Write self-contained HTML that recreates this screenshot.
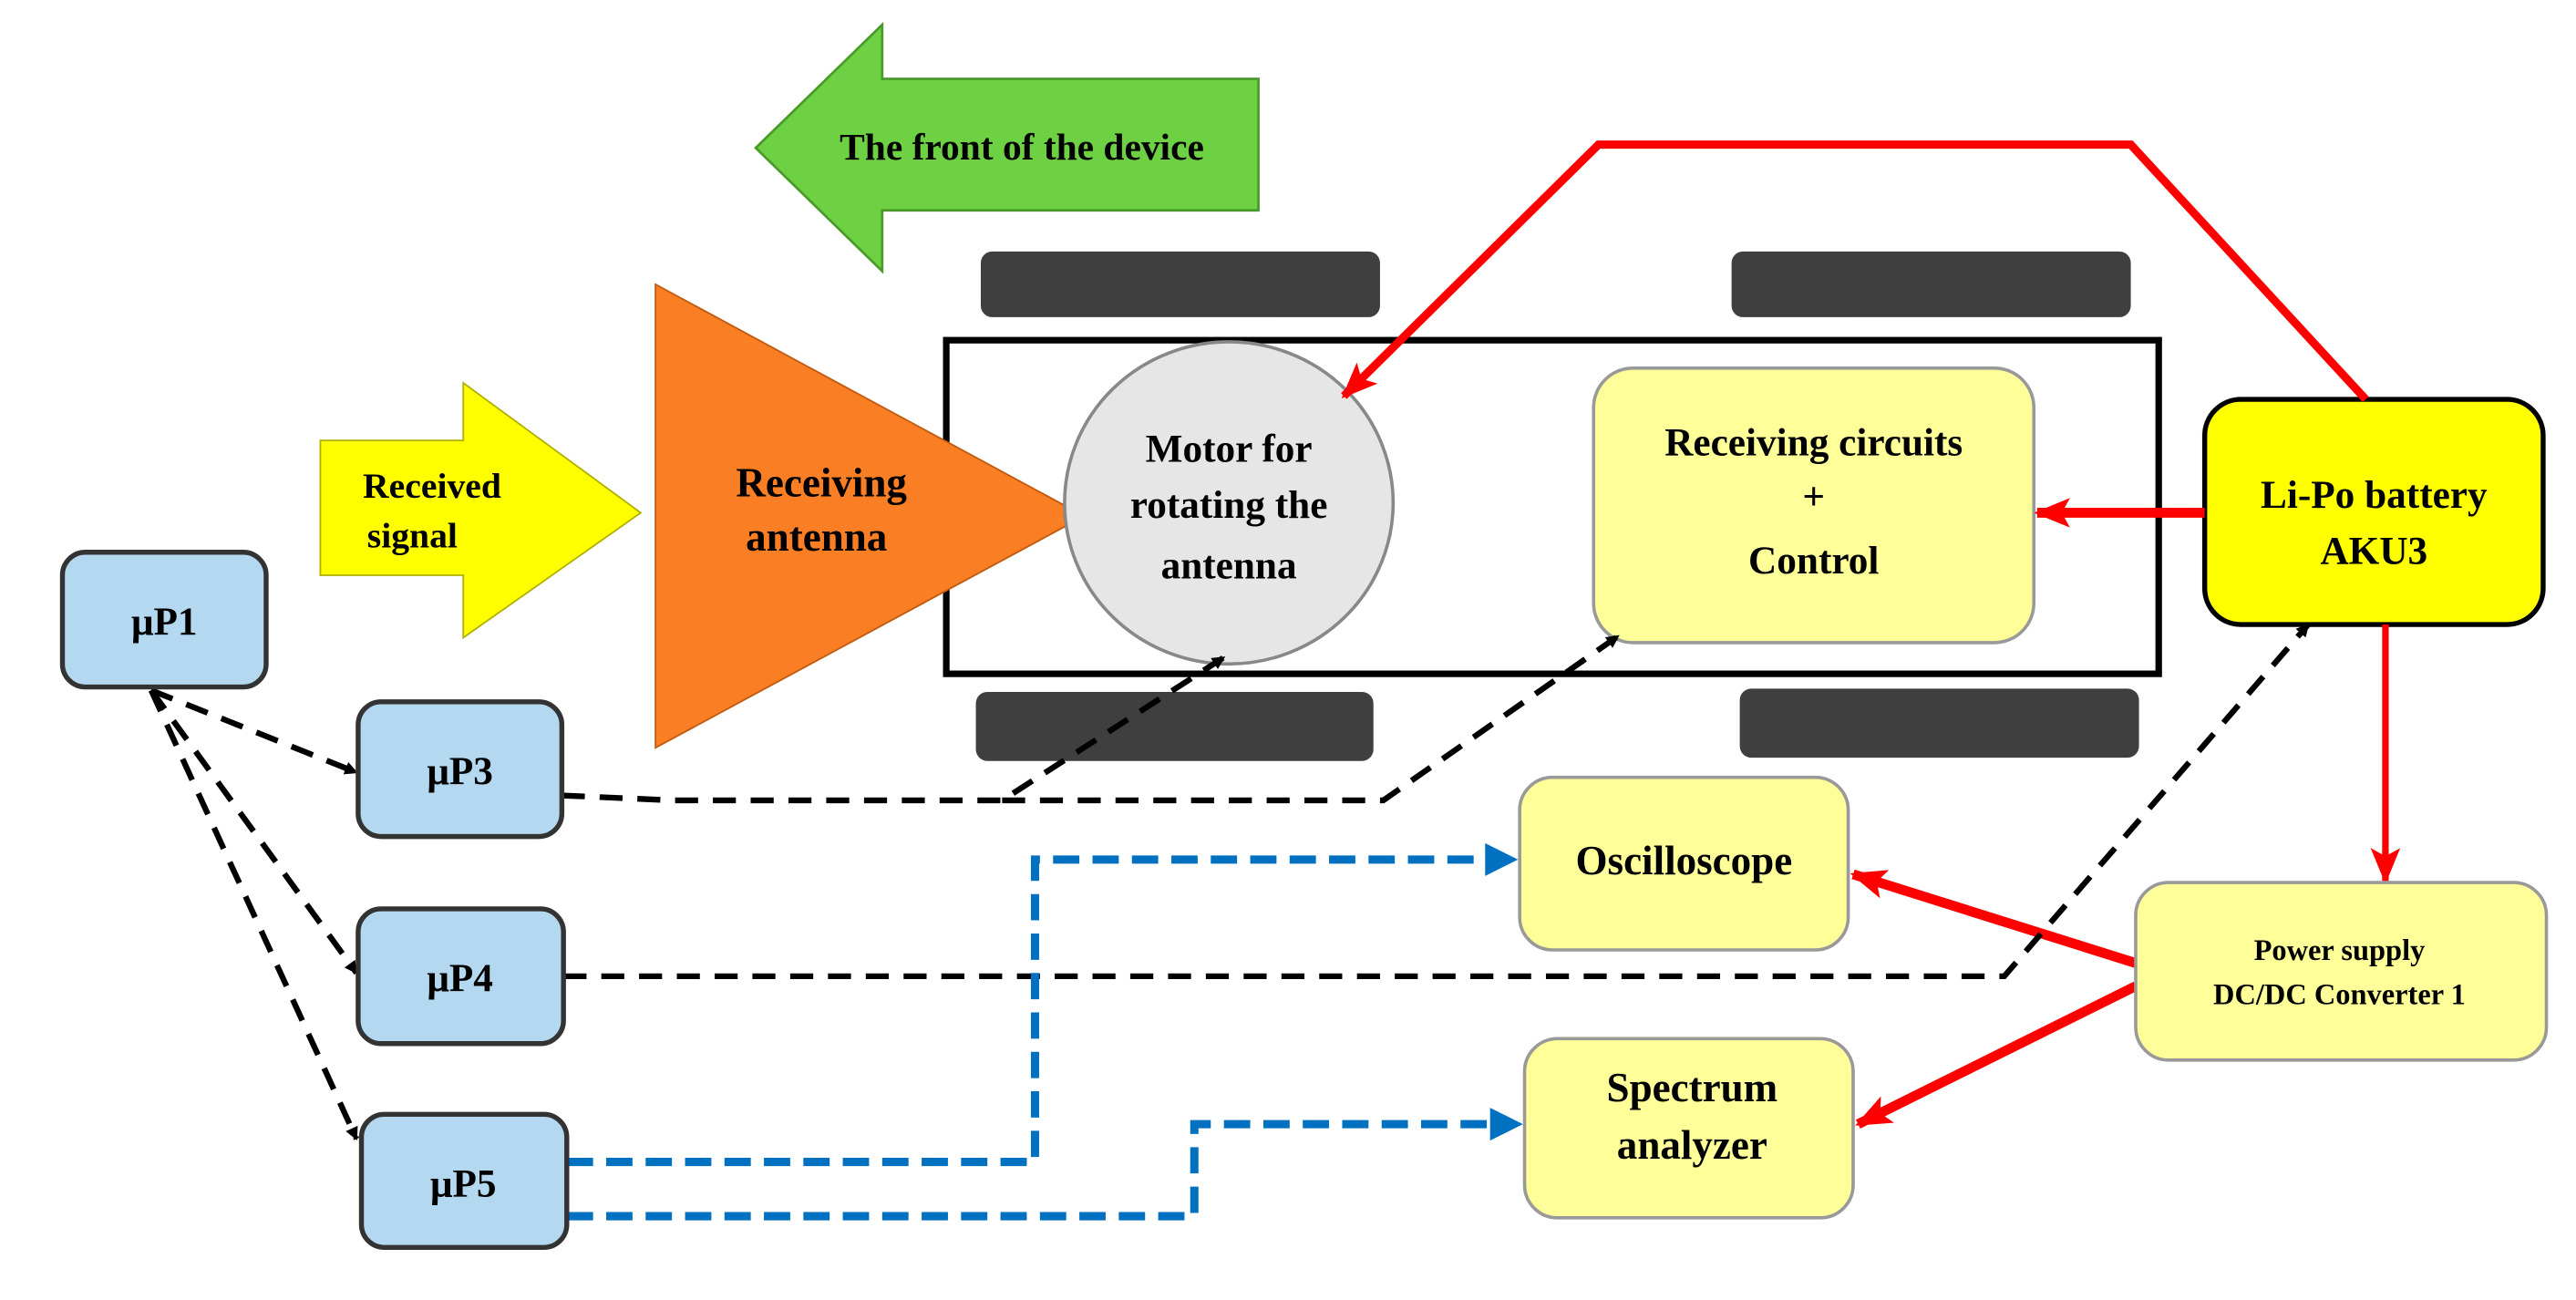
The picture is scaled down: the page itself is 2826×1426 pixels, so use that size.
<!DOCTYPE html>
<html><head><meta charset="utf-8"><style>
html,body{margin:0;padding:0;background:#fff;width:2826px;height:1426px;overflow:hidden}
svg{display:block}
text{font-family:"Liberation Serif",serif;font-weight:bold;fill:#000;text-anchor:middle}
</style></head><body>
<svg width="2826" height="1426" viewBox="0 0 1568 791" preserveAspectRatio="none" xmlns="http://www.w3.org/2000/svg">
<defs>
<marker id="ab" markerWidth="8" markerHeight="8" refX="7" refY="4" orient="auto" markerUnits="userSpaceOnUse"><path d="M0,0 L8,4 L0,8 Z" fill="#000"/></marker>
<marker id="ar" markerWidth="22" markerHeight="18" refX="20" refY="9" orient="auto" markerUnits="userSpaceOnUse"><path d="M0,0 L22,9 L0,18 L5,9 Z" fill="#f00"/></marker>
<marker id="au" markerWidth="18" markerHeight="20" refX="16" refY="9" orient="auto" markerUnits="userSpaceOnUse"><path d="M0,0 L18,9 L0,18 Z" fill="#0070c0"/></marker>
</defs>
<!-- green arrow -->
<polygon points="460,90 537,15 537,48 766,48 766,128 537,128 537,165" fill="#6dd143" stroke="#4a9a2a" stroke-width="1.5"/>
<text x="622" y="97" font-size="23">The front of the device</text>
<!-- wheels -->
<rect x="597" y="153" width="243" height="40" rx="7" fill="#3f3f3f"/>
<rect x="1054" y="153" width="243" height="40" rx="7" fill="#3f3f3f"/>
<rect x="594" y="421" width="242" height="42" rx="7" fill="#3f3f3f"/>
<rect x="1059" y="419" width="243" height="42" rx="7" fill="#3f3f3f"/>
<!-- chassis -->
<rect x="576" y="207" width="738" height="203" fill="none" stroke="#000" stroke-width="4"/>
<!-- antenna -->
<polygon points="399,173 660,314 399,455" fill="#fa7e23" stroke="#c05a10" stroke-width="1"/>
<text x="500" y="302" font-size="25">Receiving</text>
<text x="497" y="335" font-size="25">antenna</text>
<!-- yellow arrow -->
<polygon points="195,268 282,268 282,233 390,312 282,388 282,350 195,350" fill="#ffff00" stroke="#b0b000" stroke-width="1"/>
<text x="263" y="303" font-size="22">Received</text>
<text x="251" y="333" font-size="22">signal</text>
<!-- motor -->
<ellipse cx="748" cy="306" rx="100" ry="98" fill="#e6e6e6" stroke="#888" stroke-width="2"/>
<text x="748" y="281" font-size="24">Motor for</text>
<text x="748" y="315" font-size="24">rotating the</text>
<text x="748" y="352" font-size="24">antenna</text>
<!-- receiving circuits -->
<rect x="970" y="224" width="268" height="167" rx="24" fill="#ffff99" stroke="#999" stroke-width="2"/>
<text x="1104" y="277" font-size="24">Receiving circuits</text>
<text x="1104" y="310" font-size="24">+</text>
<text x="1104" y="349" font-size="24">Control</text>
<!-- Li-Po -->
<rect x="1342" y="243" width="206" height="137" rx="22" fill="#ffff00" stroke="#000" stroke-width="3"/>
<text x="1445" y="309" font-size="24">Li-Po battery</text>
<text x="1445" y="343" font-size="24">AKU3</text>
<!-- red lines -->
<polyline points="1440,243 1297,88 973,88 818,241" fill="none" stroke="#f00" stroke-width="5" marker-end="url(#ar)"/>
<line x1="1342" y1="312" x2="1240" y2="312" stroke="#f00" stroke-width="6" marker-end="url(#ar)"/>
<line x1="1452" y1="380" x2="1452" y2="536" stroke="#f00" stroke-width="4" marker-end="url(#ar)"/>
<line x1="1300" y1="586" x2="1128" y2="532" stroke="#f00" stroke-width="6" marker-end="url(#ar)"/>
<line x1="1300" y1="600" x2="1131" y2="684" stroke="#f00" stroke-width="6" marker-end="url(#ar)"/>
<!-- instruments -->
<rect x="925" y="473" width="200" height="105" rx="20" fill="#ffff99" stroke="#999" stroke-width="2"/>
<text x="1025" y="532" font-size="25">Oscilloscope</text>
<rect x="928" y="632" width="200" height="109" rx="20" fill="#ffff99" stroke="#999" stroke-width="2"/>
<text x="1030" y="670" font-size="25">Spectrum</text>
<text x="1030" y="705" font-size="25">analyzer</text>
<rect x="1300" y="537" width="250" height="108" rx="20" fill="#ffff99" stroke="#999" stroke-width="2"/>
<text x="1424" y="584" font-size="18">Power supply</text>
<text x="1424" y="611" font-size="18">DC/DC Converter 1</text>
<!-- black dashed -->
<g fill="none" stroke="#000" stroke-width="3.5" stroke-dasharray="14,9">
<line x1="92" y1="420" x2="217" y2="470" marker-end="url(#ab)"/>
<line x1="92" y1="420" x2="217" y2="592" marker-end="url(#ab)"/>
<line x1="92" y1="420" x2="217" y2="693" marker-end="url(#ab)"/>
<polyline points="342,484 410,487 610,487 745,400" marker-end="url(#ab)"/>
<polyline points="610,487 842,487 985,387" marker-end="url(#ab)"/>
<polyline points="343,594 1220,594 1405,380" marker-end="url(#ab)"/>
</g>
<!-- blue dashed -->
<g fill="none" stroke="#0070c0" stroke-width="5" stroke-dasharray="16,8">
<polyline points="345,707 630,707 630,523 906,523"/>
<polyline points="345,740 727,740 727,684 909,684"/>
</g>
<path d="M904,513 L924,523 L904,533 Z" fill="#0070c0"/>
<path d="M907,674 L927,684 L907,694 Z" fill="#0070c0"/>
<!-- uP boxes -->
<g fill="#b4d8f0" stroke="#333" stroke-width="3">
<rect x="38" y="336" width="124" height="82" rx="14"/>
<rect x="218" y="427" width="124" height="82" rx="14"/>
<rect x="218" y="553" width="125" height="82" rx="14"/>
<rect x="220" y="678" width="125" height="81" rx="14"/>
</g>
<text x="100" y="386" font-size="24" font-weight="normal">μP1</text>
<text x="280" y="477" font-size="24" font-weight="normal">μP3</text>
<text x="280" y="603" font-size="24" font-weight="normal">μP4</text>
<text x="282" y="728" font-size="24" font-weight="normal">μP5</text>
</svg>
</body></html>
